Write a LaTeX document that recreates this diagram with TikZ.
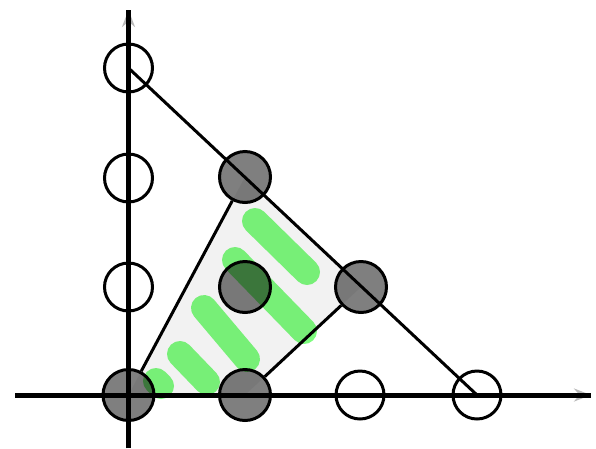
\documentclass[tikz,border=0pt]{standalone}
\usetikzlibrary{arrows.meta}
\definecolor{hl}{RGB}{126,252,126}
\begin{document}
\begin{tikzpicture}[x=1pt,y=-1pt,
  axisline/.style={line width=5pt,black},
  edgeline/.style={line width=3pt,black},
  opendot/.style={circle,draw=black,line width=3pt,minimum size=48pt,inner sep=0pt},
  fulldot/.style={circle,draw=black,line width=3pt,fill=black,fill opacity=0.5,minimum size=51pt,inner sep=0pt},
  hatch/.style={draw=hl,line width=26pt,line cap=round}]
\useasboundingbox (0,0) rectangle (596,448);
% polygon fill
\coordinate (q00) at (128.5,395);
\coordinate (q12) at (245,177);
\coordinate (q21) at (361,287);
\coordinate (q10) at (245,395);
\fill[gray!10] (q00) -- (q12) -- (q21) -- (q10) -- cycle;
% axes
\coordinate (xl) at (15,395);
\coordinate (xr) at (591,395);
\coordinate (yb) at (128.5,448);
\coordinate (yt) at (128.5,10);
\draw[axisline,-{Stealth[length=17pt,width=13pt,color=gray!55]}] (xl) -- (xr);
\draw[axisline,-{Stealth[length=17pt,width=13pt,color=gray!55]}] (yb) -- (yt);
\draw[axisline] (xl) -- (xr);
\draw[axisline] (yb) -- (yt);
% lattice points
\node[opendot] (p01) at (128.5,287) {};
\node[opendot] (p02) at (128.5,178) {};
\node[opendot] (p03) at (128.5,68) {};
\node[opendot] (p20) at (360,395) {};
\node[opendot] (p30) at (477,395) {};
% diagonal
\draw[edgeline] (p03.center) -- (p30.center);
% filled points
\node[fulldot] (p00) at (q00) {};
\node[fulldot] (p10) at (q10) {};
\node[fulldot] (p11) at (245,287) {};
\node[fulldot] (p12) at (q12) {};
\node[fulldot] (p21) at (q21) {};
% polygon edges
\draw[edgeline] (p00) -- (p12);
\draw[edgeline] (p21) -- (p10);
% green hatch strokes
\begin{scope}[blend mode=multiply]
\draw[hatch] (255,221) -- (307,272);
\draw[hatch] (235,260) -- (304,331);
\draw[hatch] (204,308) -- (247,359);
\draw[hatch] (180,354) -- (207,382);
\draw[hatch] (156,381) -- (161,386);
\end{scope}
\end{tikzpicture}
\end{document}
